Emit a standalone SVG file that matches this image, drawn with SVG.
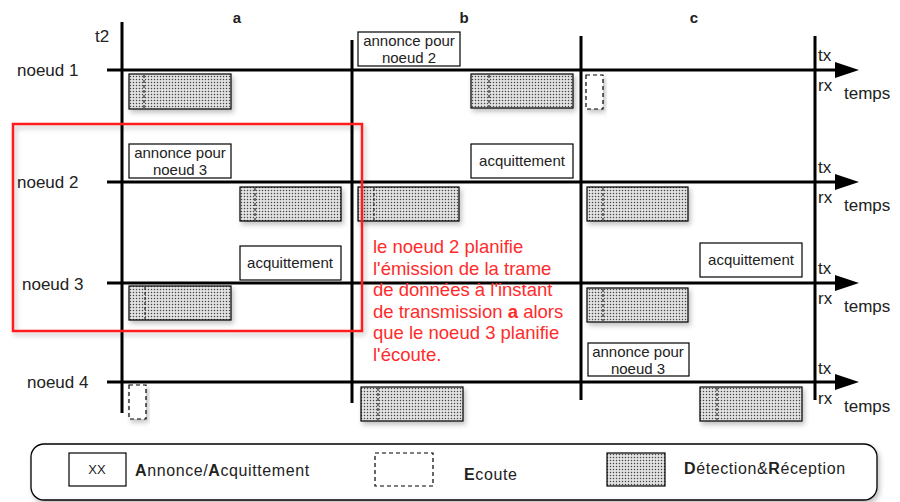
<svg xmlns="http://www.w3.org/2000/svg" width="900" height="502" viewBox="0 0 900 502">
<style>
text{font-family:"Liberation Sans",Arial,sans-serif;fill:#222}
.lbl{font-size:17px}
.bx{font-size:15px}
.lg{font-size:16px;letter-spacing:0.6px}
.hd{font-size:15px;font-weight:bold}
.red{font-size:18.5px;fill:#ff2b2b}
.ax{stroke:#000;stroke-width:3;fill:none}
.wb{fill:#fff;stroke:#000;stroke-width:1.2}
.gb{fill:url(#dots);stroke:#000;stroke-width:1.2}
.db{fill:#fff;stroke:#000;stroke-width:1.2;stroke-dasharray:4 3}
.tick{stroke:#000;stroke-width:1;stroke-dasharray:3 2}
</style>
<defs>
<pattern id="dots" width="3" height="3" patternUnits="userSpaceOnUse">
<rect width="3" height="3" fill="#e2e2e2"/>
<circle cx="1.5" cy="1.5" r="0.75" fill="#444"/>
</pattern>
<filter id="sh" x="-10%" y="-10%" width="130%" height="140%">
<feDropShadow dx="2" dy="3" stdDeviation="2.5" flood-color="#000" flood-opacity="0.25"/>
</filter>
</defs>
<rect width="900" height="502" fill="#fff"/>

<g id="connectors">
<line class="ax" x1="122" y1="22" x2="122" y2="413"/>
<line class="ax" x1="352" y1="40" x2="352" y2="403"/>
<line class="ax" x1="581" y1="36" x2="581" y2="400"/>
<line class="ax" x1="815" y1="36" x2="815" y2="400"/>
<line class="ax" x1="107" y1="70" x2="836" y2="70"/>
<line class="ax" x1="107" y1="182" x2="836" y2="182"/>
<line class="ax" x1="107" y1="283" x2="836" y2="283"/>
<line class="ax" x1="107" y1="382" x2="836" y2="382"/>
<path d="M835,62 L859,70 L835,78 Z"/>
<path d="M835,174 L859,182 L835,190 Z"/>
<path d="M835,275 L859,283 L835,291 Z"/>
<path d="M835,374 L859,382 L835,390 Z"/>
</g>

<g id="labels">
<text class="hd" x="237" y="23" text-anchor="middle">a</text>
<text class="hd" x="464" y="23" text-anchor="middle">b</text>
<text class="hd" x="694" y="23" text-anchor="middle">c</text>
<text class="lbl" x="95" y="42">t2</text>
<text class="lbl" x="17" y="76">noeud 1</text>
<text class="lbl" x="17" y="188">noeud 2</text>
<text class="lbl" x="22" y="290">noeud 3</text>
<text class="lbl" x="27" y="388">noeud 4</text>
<g class="lbl">
<text x="818" y="61">tx</text><text x="818" y="91">rx</text><text x="844" y="99">temps</text>
<text x="818" y="173">tx</text><text x="818" y="203">rx</text><text x="844" y="211">temps</text>
<text x="818" y="274">tx</text><text x="818" y="304">rx</text><text x="844" y="312">temps</text>
<text x="818" y="374">tx</text><text x="818" y="404">rx</text><text x="844" y="412">temps</text>
</g>
</g>

<g id="n1-a"><rect class="gb" x="129" y="74" width="102" height="35" filter="url(#sh)"/><line class="tick" x1="144" y1="75" x2="144" y2="108"/></g>
<g id="n1-b-annonce"><rect class="wb" x="358" y="32" width="102" height="34"/><text class="bx" x="409" y="46" text-anchor="middle">annonce pour</text><text class="bx" x="409" y="63" text-anchor="middle">noeud 2</text></g>
<g id="n1-b"><rect class="gb" x="471" y="74" width="102" height="34" filter="url(#sh)"/><line class="tick" x1="489" y1="75" x2="489" y2="107"/></g>
<g id="n1-c"><rect class="db" x="586" y="75" width="17" height="34" filter="url(#sh)"/></g>

<g id="n2-a-annonce"><rect class="wb" x="129" y="144" width="102" height="34"/><text class="bx" x="180" y="158" text-anchor="middle">annonce pour</text><text class="bx" x="180" y="175" text-anchor="middle">noeud 3</text></g>
<g id="n2-a"><rect class="gb" x="240" y="187" width="101" height="34" filter="url(#sh)"/><line class="tick" x1="255" y1="188" x2="255" y2="220"/></g>
<g id="n2-b-acq"><rect class="wb" x="471" y="144" width="102" height="34"/><text class="bx" x="522" y="166" text-anchor="middle">acquittement</text></g>
<g id="n2-b"><rect class="gb" x="358" y="187" width="101" height="34" filter="url(#sh)"/><line class="tick" x1="374" y1="188" x2="374" y2="220"/></g>
<g id="n2-c"><rect class="gb" x="587" y="187" width="101" height="34" filter="url(#sh)"/><line class="tick" x1="603" y1="188" x2="603" y2="220"/></g>

<g id="n3-a-acq"><rect class="wb" x="240" y="246" width="101" height="34"/><text class="bx" x="290" y="268" text-anchor="middle">acquittement</text></g>
<g id="n3-a"><rect class="gb" x="129" y="286" width="102" height="34" filter="url(#sh)"/><line class="tick" x1="145" y1="287" x2="145" y2="319"/></g>
<g id="n3-c-acq"><rect class="wb" x="700" y="243" width="102" height="34"/><text class="bx" x="751" y="265" text-anchor="middle">acquittement</text></g>
<g id="n3-c"><rect class="gb" x="587" y="288" width="101" height="34" filter="url(#sh)"/><line class="tick" x1="603" y1="289" x2="603" y2="321"/></g>

<g id="n4-a"><rect class="db" x="129" y="385" width="17" height="34" filter="url(#sh)"/></g>
<g id="n4-b"><rect class="gb" x="361" y="387" width="102" height="34" filter="url(#sh)"/><line class="tick" x1="378" y1="388" x2="378" y2="420"/></g>
<g id="n4-c-annonce"><rect class="wb" x="588" y="343" width="101" height="33"/><text class="bx" x="638" y="357" text-anchor="middle">annonce pour</text><text class="bx" x="638" y="374" text-anchor="middle">noeud 3</text></g>
<g id="n4-c"><rect class="gb" x="700" y="387" width="102" height="34" filter="url(#sh)"/><line class="tick" x1="717" y1="388" x2="717" y2="420"/></g>

<g id="highlight"><rect x="13" y="124" width="349" height="207" fill="none" stroke="#ff1a1a" stroke-width="2.5" filter="url(#sh)"/></g>

<g id="note">
<text class="red" x="373" y="253">le noeud 2 planifie</text>
<text class="red" x="373" y="275">l'émission de la trame</text>
<text class="red" x="373" y="296">de données à l'instant</text>
<text class="red" x="373" y="318">de transmission <tspan font-weight="bold">a</tspan> alors</text>
<text class="red" x="373" y="339">que le noeud 3 planifie</text>
<text class="red" x="373" y="361">l'écoute.</text>
</g>

<g id="legend">
<rect x="31" y="444" width="846" height="56" rx="13" fill="#fff" stroke="#000" stroke-width="1.3" filter="url(#sh)"/>
<rect class="wb" x="69" y="453" width="57" height="33"/>
<text x="97" y="474" font-size="13" text-anchor="middle">XX</text>
<text class="lg" x="135" y="476"><tspan font-weight="bold">A</tspan>nnonce/<tspan font-weight="bold">A</tspan>cquittement</text>
<rect class="db" x="375" y="453" width="58" height="33"/>
<text class="lg" x="464" y="480"><tspan font-weight="bold">E</tspan>coute</text>
<rect class="gb" x="607" y="453" width="58" height="33"/>
<text class="lg" x="684" y="474"><tspan font-weight="bold">D</tspan>étection&amp;<tspan font-weight="bold">R</tspan>éception</text>
</g>
</svg>
